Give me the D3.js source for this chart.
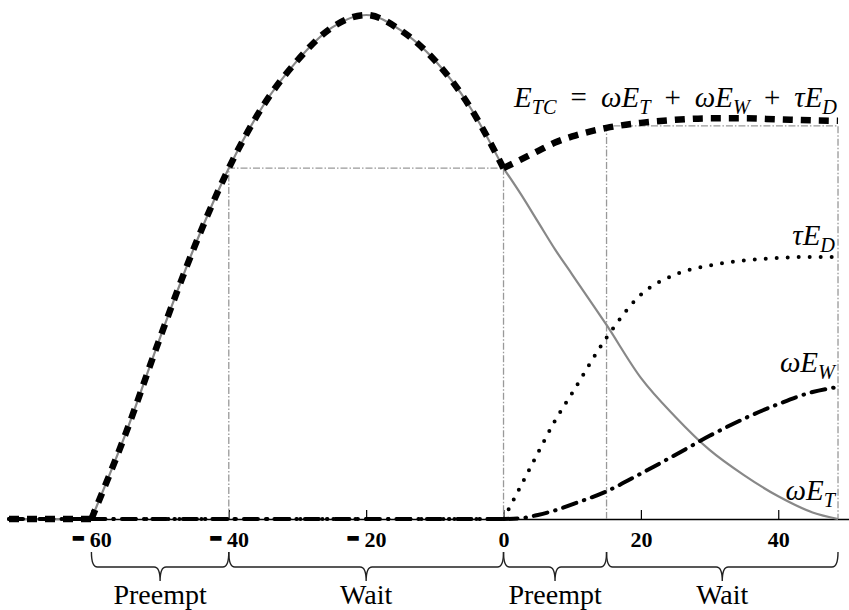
<!DOCTYPE html>
<html>
<head>
<meta charset="utf-8">
<script src="https://cdn.jsdelivr.net/npm/d3@7"></script>
<style>
body { margin: 0; background: #fff; }
</style>
</head>
<body>
<svg id="chart" width="849" height="610"></svg>
<script>
const xs  = [-72, -60, -55, -50, -45, -40, -35, -30, -25, -20, -15, -10, -5, 0, 2.5, 5, 7.5, 10, 15, 20, 25, 30, 35, 40, 45, 48.7];
// ωE_T (grey)
const eT  = [0, 0, 17, 36, 54, 69.6, 82, 91, 97.5, 100, 97, 91, 82, 69.6, 64.5, 59, 53.5, 48.5, 38.5, 28, 20.3, 13.7, 8.7, 4.5, 1.3, 0];
// E_TC (thick dashes)
const eTC = [0, 0, 17, 36, 54, 69.6, 82, 91, 97.5, 100, 97, 91, 82, 69.6, 71.3, 73, 74.7, 75.9, 77.6, 78.6, 79.2, 79.5, 79.5, 79.3, 79.1, 79];
// τE_D (dots)
const eD  = [0, 0, 0, 0, 0, 0, 0, 0, 0, 0, 0, 0, 0, 0, 6.5, 13.1, 19.5, 25, 36, 44.5, 48.5, 50.3, 51.3, 51.8, 52, 52];
// ωE_W (dash-dot)
const eW  = [0, 0, 0, 0, 0, 0, 0, 0, 0, 0, 0, 0, 0, 0, 0.15, 0.8, 1.7, 2.9, 5.5, 9.0, 12.7, 16.5, 19.9, 22.8, 25.2, 26.2];

const tickVals = [-60, -40, -20, 0, 20, 40];
const breaks = [-60, 0];   // corners in the curves

// guide boxes
const boxFrom  = [-40, 15];
const boxTo    = [0, 48.7];
const boxLevel = [69.6, 78];

// braces under the axis
const braceFrom   = [-60, -40, 0, 15];
const braceTo     = [-40, 0, 15, 48.7];
const braceLabels = ["Preempt", "Wait", "Preempt", "Wait"];

const serif = "'Liberation Serif', 'Times New Roman', Times, serif";
const svg = d3.select("#chart");

let x = d3.scaleLinear().domain([-72, 50.3]).range([9, 849]);
let y = d3.scaleLinear().domain([0, 100]).range([519, 15]);

/* 軸 */
let axis = svg.append("g")
    .attr("transform", "translate(0," + y(0) + ")")
    .call(d3.axisBottom(x).tickValues(tickVals).tickSize(-9).tickSizeOuter(0).tickPadding(12));
axis.select(".domain").attr("stroke", "#000").attr("stroke-width", 1.5);
axis.selectAll(".tick line").attr("stroke", "#000").attr("stroke-width", 1.2);
axis.selectAll(".tick text")
    .attr("fill", "#000")
    .style("font-family", serif)
    .style("font-weight", "bold")
    .style("font-size", "22px")
    .each(function(d){
        if (d < 0) {
            let t = d3.select(this);
            t.text(null);
            t.append("tspan")
                .style("font-size", "38px")
                .attr("stroke", "#000")
                .attr("stroke-width", 1.4)
                .text("-");
            t.append("tspan").attr("dx", 5).text(Math.abs(d));
        }
    });

/* guide lines */
let guides = svg.append("g")
    .attr("fill", "none")
    .attr("stroke", "#999")
    .attr("stroke-width", 1.3)
    .attr("stroke-dasharray", "7,2,1.5,2");
for (let i = 0; i < boxFrom.length; i++) {
    guides.append("path")
        .attr("d", "M" + x(boxFrom[i]) + "," + y(0) + "V" + y(boxLevel[i]) + "H" + x(boxTo[i]) + "V" + y(0));
}

// split a series at the corner points, each piece is smoothed by itself
function pieces(vals) {
    let pts = xs.map((d, i) => [d, vals[i]]);
    let edges = [-Infinity].concat(breaks, [Infinity]);
    let out = [];
    for (let k = 0; k < edges.length - 1; k++) {
        let seg = pts.filter(p => p[0] >= edges[k] && p[0] <= edges[k + 1]);
        if (seg.length > 1) out.push(seg);
    }
    return out;
}

let line = d3.line()
    .x(d => x(d[0]))
    .y(d => y(d[1]))
    .curve(d3.curveMonotoneX);

function drawSeries(vals, stroke, width, dash, cap) {
    svg.append("g").selectAll("path")
        .data(pieces(vals))
        .enter()
        .append("path")
        .attr("d", line)
        .attr("fill", "none")
        .attr("stroke", stroke)
        .attr("stroke-width", width)
        .attr("stroke-dasharray", dash)
        .attr("stroke-linecap", cap);
}

drawSeries(eT, "#888", 2.2, null, "butt");
drawSeries(eD, "#000", 4, "0,11", "round");
drawSeries(eW, "#000", 4, "14,8,0.5,8", "round");
drawSeries(eTC, "#000", 6.5, "10,8", "butt");

/* labels on the right */
function mathLabel(parts, xr, yb, size, gapW) {
    let t = svg.append("text")
        .attr("x", xr)
        .attr("y", yb)
        .attr("text-anchor", "end")
        .attr("fill", "#000")
        .style("font-family", serif)
        .style("font-style", "italic")
        .style("font-size", size + "px");
    let low = false, gap = 0;
    parts.forEach(p => {
        let s = t.append("tspan").text(p.t);
        let dy = 0;
        if (p.sub && !low) { dy = 7; low = true; }
        if (!p.sub && low) { dy = -7; low = false; }
        if (dy) s.attr("dy", dy);
        if (p.sub) s.style("font-size", (size * 0.7) + "px");
        if (p.op) { s.style("font-style", "normal").attr("dx", gapW); gap = gapW; }
        else if (gap) { s.attr("dx", gap); gap = 0; }
    });
}

mathLabel([{t: "E"}, {t: "TC", sub: true}, {t: "=", op: true}, {t: "ωE"}, {t: "T", sub: true},
           {t: "+", op: true}, {t: "ωE"}, {t: "W", sub: true}, {t: "+", op: true},
           {t: "τE"}, {t: "D", sub: true}], x(48.7) - 1, y(79) - 14, 29, 14);
mathLabel([{t: "τE"}, {t: "D", sub: true}], x(48.7) - 3, y(52) - 12, 29, 0);
mathLabel([{t: "ωE"}, {t: "W", sub: true}], x(48.7) - 3, y(26.2) - 15, 29, 0);
mathLabel([{t: "ωE"}, {t: "T", sub: true}], x(48.7) - 3, y(0) - 19, 29, 0);

/* braces */
let by0 = y(0) + 33, by1 = y(0) + 48, by2 = y(0) + 62, r = 6;
let braces = svg.append("g");
for (let i = 0; i < braceFrom.length; i++) {
    let a = x(braceFrom[i]), b = x(braceTo[i]), m = (a + b) / 2;
    braces.append("path")
        .attr("d", "M" + a + "," + by0 + "Q" + a + "," + by1 + " " + (a + r) + "," + by1 +
                   "H" + (m - r) + "Q" + m + "," + by1 + " " + m + "," + by2 +
                   "Q" + m + "," + by1 + " " + (m + r) + "," + by1 +
                   "H" + (b - r) + "Q" + b + "," + by1 + " " + b + "," + by0)
        .attr("fill", "none")
        .attr("stroke", "#222")
        .attr("stroke-width", 1.4);
    braces.append("text")
        .attr("x", m)
        .attr("y", y(0) + 85)
        .attr("text-anchor", "middle")
        .attr("fill", "#000")
        .style("font-family", serif)
        .style("font-size", "28px")
        .text(braceLabels[i]);
}
</script>
</body>
</html>
